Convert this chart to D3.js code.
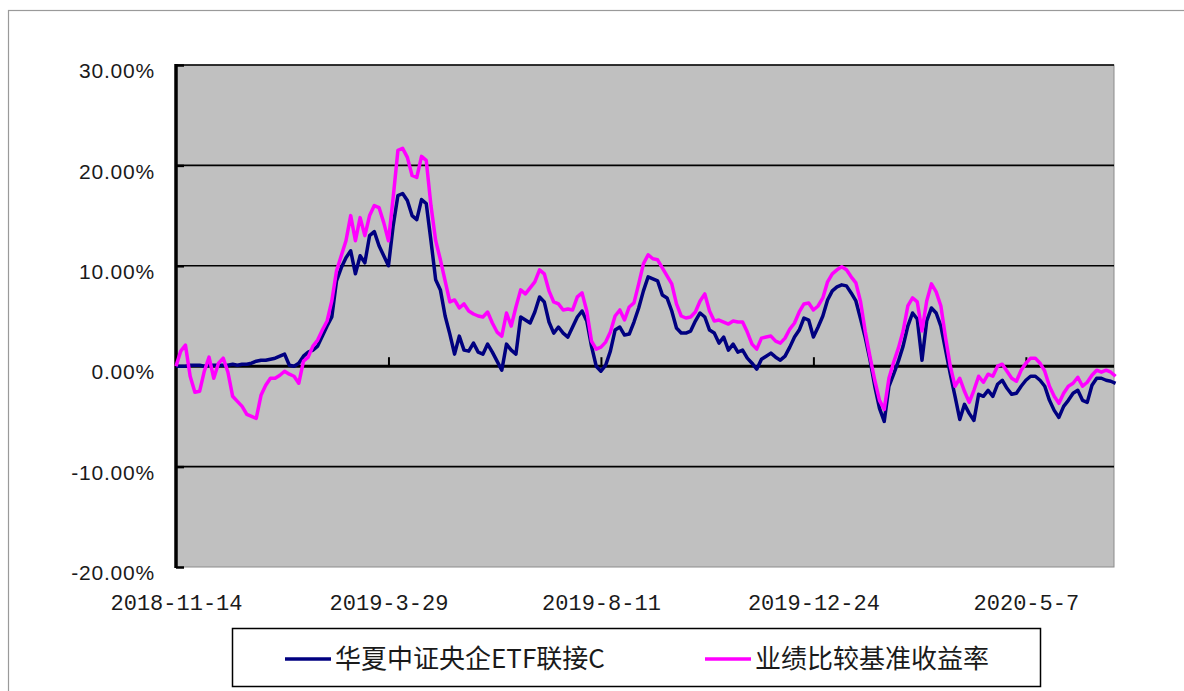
<!DOCTYPE html>
<html><head><meta charset="utf-8">
<script src="https://cdn.jsdelivr.net/npm/d3@7"></script>
<style>
html,body{margin:0;padding:0;background:#fff;}
svg{display:block;}
</style></head>
<body>
<svg id="chart" width="1184" height="691"></svg>
<script>
// ---- data (values in %) sampled every 3 calendar days from 2018-11-14 ----
const startDate = "2018-11-14";
const stepDays = 3;
const fundName = "华夏中证央企ETF联接C";
const benchName = "业绩比较基准收益率";
const fund = [
0,0,0,0.1,0.1,0.1,0,0.1,0.1,0.1,
0.1,0.1,0.2,0.1,0.2,0.2,0.3,0.5,0.6,0.6,
0.7,0.8,1.0,1.2,0.1,0.0,0.3,1.0,1.4,1.6,
2.0,3.0,4.0,4.9,8.5,9.8,10.8,11.5,9.2,11.0,
10.3,13.0,13.4,12.0,11.0,10.0,14.0,17.0,17.2,16.5,
15.0,14.6,16.6,16.2,12.5,8.6,7.6,5.0,3.2,1.2,
3.0,1.6,1.5,2.3,1.4,1.2,2.2,1.4,0.5,-0.4,
2.2,1.6,1.2,4.9,4.6,4.3,5.4,6.9,6.4,4.4,
3.3,3.9,3.3,2.9,3.9,4.9,5.5,4.5,2.0,0.0,
-0.5,0.1,1.5,3.6,3.9,3.1,3.2,4.4,5.8,7.5,
8.9,8.7,8.5,7.1,6.8,5.5,3.8,3.3,3.3,3.5,
4.5,5.3,4.9,3.6,3.3,2.3,2.9,1.6,2.2,1.4,
1.6,0.8,0.3,-0.3,0.7,1.0,1.3,0.9,0.6,1.0,
1.9,2.9,3.6,4.8,4.6,2.9,3.9,5.0,6.6,7.5,
7.9,8.1,8.0,7.3,6.5,4.7,2.8,0.6,-2.0,-4.2,
-5.5,-2.0,-0.8,0.5,2.0,4.0,5.3,4.7,0.6,4.5,
5.8,5.3,4.0,1.6,-0.8,-3.0,-5.3,-3.8,-4.7,-5.4,
-2.8,-3.0,-2.4,-3.0,-1.8,-1.4,-2.2,-2.8,-2.7,-2.0,
-1.4,-1.0,-1.0,-1.4,-2.0,-3.4,-4.4,-5.1,-4.0,-3.4,
-2.7,-2.4,-3.4,-3.6,-1.9,-1.2,-1.2,-1.4,-1.5,-1.7
];
const bench = [
0,1.5,2.1,-1.0,-2.6,-2.5,-0.5,0.9,-1.2,0.3,
0.8,-0.6,-3.0,-3.5,-4.0,-4.8,-5.0,-5.2,-2.9,-1.9,
-1.2,-1.2,-0.9,-0.5,-0.8,-1.0,-1.7,0.5,0.9,2.0,
2.6,3.6,4.5,6.5,9.5,11.0,12.5,15.0,12.5,14.8,
13.0,15.0,16.0,15.8,14.3,12.5,16.8,21.5,21.7,20.8,
19.0,18.8,20.9,20.5,16.0,12.5,10.6,8.5,6.4,6.6,
5.8,6.2,5.5,5.2,5.0,4.9,5.4,4.3,3.4,3.0,
5.3,4.0,5.9,7.6,7.2,7.8,8.4,9.6,9.2,7.5,
6.4,6.2,5.6,5.7,5.6,6.9,7.3,5.5,2.5,1.7,
1.9,2.4,3.4,5.0,5.6,4.6,5.9,6.3,8.2,10.2,
11.1,10.7,10.6,9.8,9.0,8.2,6.2,5.0,4.8,4.9,
5.4,6.5,7.2,5.5,4.5,4.6,4.4,4.2,4.5,4.4,
4.4,3.4,2.2,1.7,2.8,2.9,3.0,2.5,2.3,2.8,
3.7,4.3,5.4,6.2,6.3,5.6,6.0,6.8,8.4,9.2,
9.6,9.9,9.6,8.9,8.3,6.4,3.4,0.9,-1.4,-3.4,
-4.3,-1.2,0.4,1.8,3.5,6.0,6.8,6.4,3.5,6.5,
8.2,7.4,6.0,2.8,0.0,-2.0,-1.2,-2.5,-3.6,-2.4,
-1.0,-1.6,-0.8,-1.0,0.0,0.2,-0.5,-1.2,-1.5,-0.4,
0.3,0.8,0.8,0.3,-0.5,-2.0,-3.0,-3.7,-2.7,-2.0,
-1.7,-1.1,-2.0,-1.6,-0.9,-0.4,-0.6,-0.4,-0.6,-1.0
];
const xTickLabels = ["2018-11-14","2019-3-29","2019-8-11","2019-12-24","2020-5-7"];
const yTicks = [-20,-10,0,10,20,30];
const xEnd = "2020-7-2";

// ---- helpers ----
const parseD = s => { const [y,m,d] = s.split("-").map(Number); return new Date(y, m-1, d); };
const t0 = parseD(startDate);
const dates = fund.map((_, i) => d3.timeDay.offset(t0, i*stepDays));

const svg = d3.select("#chart");
const L = 176, R = 1114, T = 65, B = 567;

const x = d3.scaleTime().domain([t0, parseD(xEnd)]).range([L, R]);
const y = d3.scaleLinear().domain([-20, 30]).range([B, T]);

// outer frame
svg.append("rect").attr("x",8.5).attr("y",10.5).attr("width",1250).attr("height",760)
  .attr("fill","#fff").attr("stroke","#9a9a9a").attr("stroke-width",1.2);

// plot area
svg.append("rect").attr("x",L).attr("y",T).attr("width",R-L).attr("height",B-T)
  .attr("fill","#c0c0c0").attr("stroke","#8c8c8c").attr("stroke-width",1);

// gridlines
svg.append("g").selectAll("line").data(yTicks.filter(v => v !== -20 && v !== 0)).join("line")
  .attr("x1",L).attr("x2",R).attr("y1",d=>y(d)).attr("y2",d=>y(d))
  .attr("stroke","#000").attr("stroke-width",1.6);

// y axis labels
const yAxis = svg.append("g").attr("transform",`translate(${L},0)`)
  .call(d3.axisLeft(y).tickValues(yTicks).tickSize(0).tickPadding(21).tickFormat(d => d.toFixed(2)+"%"));
yAxis.select(".domain").remove();
yAxis.selectAll("text").attr("font-family","'Liberation Sans', Arial, sans-serif")
  .attr("font-size",21).attr("letter-spacing","0.8px").attr("fill","#1a1a1a").attr("dy","0.6em");

// y axis inner ticks
const yT = svg.append("g").attr("transform",`translate(${L},0)`)
  .call(d3.axisRight(y).tickValues(yTicks).tickSize(8).tickFormat(""));
yT.select(".domain").remove();
yT.selectAll("line").attr("stroke","#000").attr("stroke-width",2.5);

// x tick labels at bottom
const xDates = xTickLabels.map(parseD);
const xAxis = svg.append("g").attr("transform",`translate(0,${B})`)
  .call(d3.axisBottom(x).tickValues(xDates).tickSize(0).tickPadding(27)
    .tickFormat((d,i) => xTickLabels[i]));
xAxis.select(".domain").remove();
xAxis.selectAll("text").attr("font-family","'Liberation Mono', monospace")
  .attr("font-size",22).attr("fill","#1a1a1a");

// zero line (category axis) with upward ticks
const xT = svg.append("g").attr("transform",`translate(0,${y(0)})`)
  .call(d3.axisTop(x).tickValues(xDates).tickSize(9).tickFormat(""));
xT.select(".domain").remove();
xT.selectAll("line").attr("stroke","#000").attr("stroke-width",2);
svg.append("line").attr("x1",L).attr("x2",R).attr("y1",y(0)).attr("y2",y(0))
  .attr("stroke","#000").attr("stroke-width",3);

// y axis line
svg.append("line").attr("x1",L).attr("x2",L).attr("y1",T-1).attr("y2",B+1)
  .attr("stroke","#000").attr("stroke-width",3.5);

// series
const line = d3.line().x((d,i) => x(dates[i])).y(d => y(d));
svg.append("path").datum(fund).attr("d",line).attr("fill","none")
  .attr("stroke","#000080").attr("stroke-width",3.5).attr("stroke-linejoin","round");
svg.append("path").datum(bench).attr("d",line).attr("fill","none")
  .attr("stroke","#ff00ff").attr("stroke-width",3.5).attr("stroke-linejoin","round");

// legend
const lg = svg.append("g");
lg.append("rect").attr("x",232.5).attr("y",628.5).attr("width",808).attr("height",58)
  .attr("fill","#fff").attr("stroke","#000").attr("stroke-width",1.5);
const items = [
  {name: fundName, color: "#000080", x: 285},
  {name: benchName, color: "#ff00ff", x: 705}
];
items.forEach(it => {
  lg.append("line").attr("x1",it.x).attr("x2",it.x+46).attr("y1",659).attr("y2",659)
    .attr("stroke",it.color).attr("stroke-width",3.5);
  lg.append("text").attr("x",it.x+50).attr("y",659).attr("dy","0.36em")
    .attr("font-family","'Noto Sans CJK SC', sans-serif").attr("font-size",26)
    .attr("fill","#1a1a1a").text(it.name);
});
</script>
</body></html>
